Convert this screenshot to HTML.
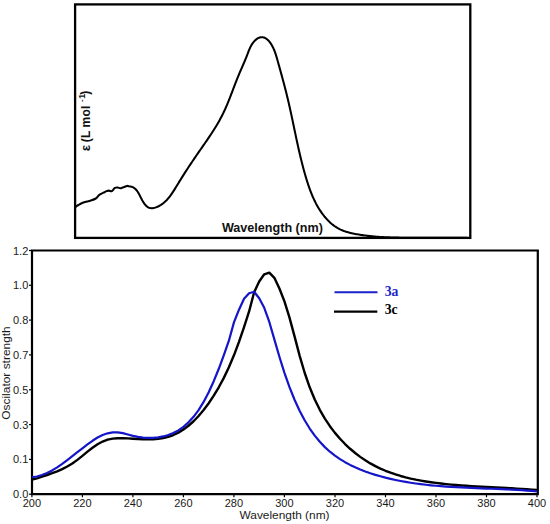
<!DOCTYPE html>
<html><head><meta charset="utf-8"><style>
html,body{margin:0;padding:0;background:#fff;}
body{width:550px;height:524px;overflow:hidden;font-family:"Liberation Sans",sans-serif;}
svg{display:block;}
</style></head><body>
<svg width="550" height="524" viewBox="0 0 550 524">
<rect x="75.1" y="4.4" width="395.2" height="233.5" fill="none" stroke="#000" stroke-width="2.3"/>
<path d="M76.0 206.6 C76.4 206.3 77.3 205.6 78.4 205.0 C79.5 204.4 81.2 203.4 82.7 202.8 C84.2 202.2 85.6 201.9 87.1 201.5 C88.6 201.1 90.0 200.8 91.5 200.3 C93.0 199.8 94.8 199.1 95.8 198.5 C96.8 197.9 96.9 197.5 97.5 196.8 C98.1 196.2 98.6 195.3 99.6 194.6 C100.6 193.9 102.3 193.3 103.5 192.7 C104.7 192.1 105.8 191.4 106.7 191.1 C107.6 190.8 108.1 190.6 108.9 190.6 C109.7 190.6 110.6 191.4 111.3 191.3 C112.0 191.2 112.3 190.7 112.9 190.1 C113.5 189.5 114.1 188.3 114.9 187.9 C115.7 187.5 116.7 187.4 117.6 187.5 C118.5 187.6 119.6 188.3 120.4 188.3 C121.2 188.3 121.8 187.8 122.5 187.5 C123.2 187.2 124.0 187.1 124.7 186.8 C125.4 186.5 126.2 186.0 126.9 185.9 C127.6 185.8 128.7 186.2 129.1 186.3 L129.06 186.18 L130.37 186.39 L131.57 186.72 L132.66 187.14 L133.65 187.67 L134.56 188.28 L135.39 188.98 L136.15 189.76 L136.86 190.60 L137.51 191.51 L138.13 192.48 L138.72 193.49 L139.29 194.54 L139.85 195.63 L140.41 196.74 L140.98 197.88 L141.57 199.02 L142.18 200.17 L142.82 201.29 L143.48 202.38 L144.18 203.42 L144.91 204.40 L145.68 205.30 L146.49 206.10 L147.35 206.80 L148.25 207.36 L149.21 207.79 L150.23 208.06 L151.30 208.17 L152.40 208.14 L153.53 207.98 L154.67 207.72 L155.80 207.38 L156.90 206.97 L157.98 206.51 L159.02 206.00 L160.02 205.45 L161.00 204.86 L161.95 204.22 L162.86 203.55 L163.76 202.84 L164.62 202.09 L165.46 201.32 L166.28 200.51 L167.08 199.67 L167.85 198.80 L168.61 197.91 L169.35 197.00 L170.07 196.07 L170.78 195.11 L171.47 194.14 L172.15 193.16 L172.82 192.16 L173.48 191.15 L174.13 190.13 L174.77 189.11 L175.40 188.08 L176.04 187.04 L176.66 186.01 L177.29 184.97 L177.91 183.94 L178.54 182.92 L179.16 181.90 L179.79 180.88 L180.42 179.87 L181.04 178.86 L181.67 177.85 L182.30 176.85 L182.93 175.86 L183.56 174.87 L184.19 173.88 L184.82 172.89 L185.45 171.91 L186.09 170.93 L186.72 169.95 L187.36 168.97 L187.99 168.00 L188.63 167.03 L189.27 166.06 L189.91 165.09 L190.55 164.13 L191.20 163.17 L191.84 162.20 L192.49 161.24 L193.14 160.28 L193.79 159.32 L194.44 158.37 L195.09 157.41 L195.74 156.45 L196.40 155.49 L197.06 154.54 L197.72 153.58 L198.38 152.62 L199.04 151.66 L199.71 150.70 L200.38 149.74 L201.04 148.78 L201.71 147.82 L202.38 146.86 L203.05 145.90 L203.73 144.93 L204.40 143.97 L205.07 143.00 L205.73 142.03 L206.40 141.06 L207.07 140.09 L207.73 139.11 L208.40 138.14 L209.06 137.16 L209.71 136.18 L210.37 135.20 L211.02 134.21 L211.67 133.23 L212.31 132.24 L212.95 131.24 L213.59 130.25 L214.22 129.25 L214.84 128.25 L215.46 127.25 L216.08 126.24 L216.69 125.23 L217.29 124.22 L217.88 123.20 L218.47 122.19 L219.05 121.16 L219.63 120.14 L220.19 119.11 L220.75 118.07 L221.30 117.03 L221.84 115.99 L222.37 114.94 L222.89 113.89 L223.41 112.84 L223.91 111.78 L224.41 110.72 L224.90 109.65 L225.38 108.59 L225.85 107.51 L226.32 106.44 L226.78 105.36 L227.24 104.28 L227.69 103.20 L228.13 102.11 L228.58 101.03 L229.01 99.94 L229.45 98.85 L229.88 97.75 L230.30 96.66 L230.73 95.57 L231.15 94.47 L231.57 93.37 L231.99 92.28 L232.41 91.18 L232.82 90.08 L233.24 88.98 L233.66 87.88 L234.08 86.79 L234.49 85.69 L234.91 84.59 L235.34 83.49 L235.76 82.40 L236.19 81.30 L236.62 80.21 L237.05 79.12 L237.48 78.03 L237.92 76.94 L238.37 75.85 L238.82 74.77 L239.27 73.69 L239.73 72.61 L240.20 71.53 L240.66 70.45 L241.13 69.37 L241.60 68.30 L242.07 67.22 L242.54 66.15 L243.00 65.07 L243.47 64.00 L243.93 62.92 L244.40 61.84 L244.85 60.77 L245.30 59.69 L245.75 58.61 L246.19 57.52 L246.62 56.43 L247.05 55.35 L247.47 54.25 L247.88 53.16 L248.29 52.06 L248.70 50.97 L249.14 49.88 L249.59 48.80 L250.07 47.72 L250.59 46.66 L251.15 45.61 L251.76 44.57 L252.43 43.55 L253.15 42.55 L253.94 41.59 L254.79 40.68 L255.68 39.84 L256.61 39.09 L257.58 38.44 L258.59 37.92 L259.62 37.53 L260.67 37.29 L261.72 37.20 L262.77 37.26 L263.79 37.47 L264.78 37.83 L265.74 38.32 L266.66 38.94 L267.55 39.67 L268.39 40.49 L269.20 41.40 L269.96 42.38 L270.68 43.40 L271.37 44.47 L272.01 45.56 L272.60 46.67 L273.15 47.77 L273.67 48.87 L274.14 49.98 L274.59 51.08 L275.00 52.18 L275.39 53.29 L275.76 54.39 L276.11 55.50 L276.44 56.60 L276.76 57.71 L277.08 58.82 L277.39 59.93 L277.71 61.04 L278.02 62.16 L278.33 63.27 L278.64 64.39 L278.96 65.51 L279.27 66.63 L279.58 67.75 L279.90 68.87 L280.21 70.00 L280.52 71.12 L280.83 72.25 L281.14 73.38 L281.45 74.51 L281.76 75.64 L282.07 76.77 L282.38 77.90 L282.69 79.04 L282.99 80.17 L283.30 81.31 L283.60 82.44 L283.90 83.58 L284.20 84.72 L284.50 85.86 L284.80 87.00 L285.09 88.14 L285.39 89.28 L285.68 90.42 L285.97 91.57 L286.25 92.71 L286.54 93.85 L286.82 95.00 L287.10 96.14 L287.38 97.29 L287.65 98.43 L287.92 99.58 L288.19 100.72 L288.46 101.87 L288.73 103.02 L288.99 104.16 L289.25 105.31 L289.51 106.46 L289.77 107.60 L290.02 108.75 L290.28 109.90 L290.53 111.05 L290.78 112.19 L291.03 113.34 L291.27 114.49 L291.52 115.64 L291.77 116.79 L292.01 117.94 L292.25 119.08 L292.50 120.23 L292.74 121.38 L292.98 122.53 L293.22 123.68 L293.46 124.83 L293.70 125.97 L293.94 127.12 L294.18 128.27 L294.42 129.42 L294.66 130.57 L294.90 131.71 L295.14 132.86 L295.39 134.01 L295.63 135.16 L295.87 136.30 L296.11 137.45 L296.36 138.60 L296.60 139.74 L296.85 140.89 L297.10 142.04 L297.35 143.18 L297.60 144.33 L297.85 145.47 L298.10 146.62 L298.36 147.76 L298.61 148.91 L298.87 150.05 L299.13 151.19 L299.39 152.33 L299.66 153.48 L299.93 154.62 L300.20 155.76 L300.47 156.90 L300.74 158.04 L301.02 159.18 L301.30 160.32 L301.58 161.46 L301.87 162.60 L302.16 163.74 L302.45 164.87 L302.75 166.01 L303.04 167.15 L303.35 168.28 L303.65 169.42 L303.96 170.55 L304.28 171.69 L304.59 172.82 L304.92 173.95 L305.24 175.08 L305.57 176.21 L305.91 177.34 L306.25 178.47 L306.59 179.60 L306.94 180.73 L307.29 181.85 L307.65 182.98 L308.02 184.10 L308.39 185.22 L308.77 186.34 L309.15 187.45 L309.55 188.56 L309.95 189.67 L310.36 190.77 L310.78 191.87 L311.21 192.97 L311.65 194.06 L312.09 195.15 L312.55 196.23 L313.02 197.31 L313.50 198.38 L313.99 199.44 L314.49 200.50 L315.00 201.55 L315.53 202.60 L316.06 203.64 L316.62 204.67 L317.18 205.69 L317.76 206.71 L318.35 207.71 L318.96 208.71 L319.58 209.70 L320.22 210.68 L320.87 211.66 L321.54 212.62 L322.23 213.57 L322.93 214.51 L323.65 215.45 L324.38 216.37 L325.14 217.28 L325.91 218.17 L326.69 219.05 L327.50 219.91 L328.32 220.75 L329.16 221.58 L330.02 222.38 L330.89 223.17 L331.78 223.93 L332.69 224.67 L333.61 225.38 L334.56 226.07 L335.52 226.73 L336.50 227.36 L337.49 227.96 L338.51 228.53 L339.54 229.07 L340.59 229.58 L341.65 230.05 L342.73 230.50 L343.83 230.92 L344.93 231.31 L346.05 231.68 L347.18 232.02 L348.32 232.35 L349.46 232.65 L350.61 232.94 L351.77 233.21 L352.93 233.46 L354.10 233.70 L355.26 233.93 L356.43 234.15 L357.60 234.36 L358.76 234.57 L359.93 234.76 L361.10 234.94 L362.26 235.12 L363.43 235.29 L364.60 235.45 L365.77 235.60 L366.93 235.74 L368.10 235.88 L369.27 236.01 L370.44 236.14 L371.60 236.26 L372.77 236.37 L373.94 236.47 L375.11 236.57 L376.27 236.66 L377.44 236.75 L378.61 236.83 L379.78 236.91 L380.95 236.98 L382.12 237.05 L383.29 237.11 L384.46 237.17 L385.63 237.23 L386.79 237.28 L387.96 237.33 L389.13 237.37 L390.31 237.41 L391.48 237.45 L392.65 237.48 L393.82 237.52 L394.99 237.55 L396.16 237.57 L397.33 237.60 L398.51 237.62 L399.68 237.65 L400.85 237.67 L402.02 237.69 L403.20 237.71 L404.37 237.72 L405.54 237.74 L406.72 237.76 L407.89 237.77 L409.07 237.78 L410.24 237.80 L411.42 237.81 L412.59 237.82 L413.77 237.83 L414.95 237.84 L416.12 237.84 L417.30 237.85 L418.47 237.86 L419.65 237.86 L420.83 237.87 L422.00 237.87 L423.18 237.88 L424.36 237.88 L425.53 237.88 L426.71 237.89 L427.89 237.89 L429.06 237.89 L430.24 237.89 L431.42 237.89 L432.59 237.89 L433.77 237.89 L434.95 237.89 L436.12 237.89 L437.30 237.89 L438.48 237.89 L439.65 237.88 L440.83 237.88 L442.00 237.88 L443.18 237.88 L444.36 237.88 L445.53 237.88 L446.71 237.88 L447.88 237.87 L449.06 237.87 L450.23 237.87 L451.41 237.87 L452.58 237.87 L453.76 237.87 L454.93 237.87 L456.10 237.87 L457.28 237.87 L458.45 237.87 L459.62 237.87 L460.80 237.88 L461.97 237.88 L463.14 237.88 L464.31 237.89 L465.48 237.89 L466.65 237.89 L467.82 237.90 L468.99 237.91" fill="none" stroke="#000" stroke-width="2.05" stroke-linejoin="round" stroke-linecap="round"/>
<g transform="translate(89.90 151.00) rotate(-90)" font-family="&quot;Liberation Sans&quot;, sans-serif" font-weight="bold" fill="#111"><text x="-0.3" y="0" font-size="13.5">&#949;</text><text y="0" font-size="12"><tspan x="8.7">(</tspan><tspan x="12.9">L</tspan><tspan x="23.4">m</tspan><tspan x="34.5">o</tspan><tspan x="42.1">l</tspan><tspan x="56.3" y="-0.9">)</tspan></text><text y="-5.8" font-size="8"><tspan x="48.9">-</tspan></text><text y="-4.9" font-size="8.8"><tspan x="52.3">1</tspan></text></g>
<text x="221.9" y="232.2" font-family="&quot;Liberation Sans&quot;, sans-serif" font-weight="bold" font-size="12" fill="#111" textLength="101" lengthAdjust="spacingAndGlyphs">Wavelength (nm)</text>
<path d="M32.0 250.5 H537.8 V494.2 H32.0 Z" fill="none" stroke="#000" stroke-width="2.2"/>
<line x1="29.0" y1="494.2" x2="32.0" y2="494.2" stroke="#000" stroke-width="1.2"/>
<text x="28.3" y="498.2" text-anchor="end" font-family="&quot;Liberation Sans&quot;, sans-serif" font-size="11" fill="#1a1a1a">0.0</text>
<line x1="29.0" y1="459.4" x2="32.0" y2="459.4" stroke="#000" stroke-width="1.2"/>
<text x="28.3" y="463.4" text-anchor="end" font-family="&quot;Liberation Sans&quot;, sans-serif" font-size="11" fill="#1a1a1a">0.1</text>
<line x1="29.0" y1="424.6" x2="32.0" y2="424.6" stroke="#000" stroke-width="1.2"/>
<text x="28.3" y="428.6" text-anchor="end" font-family="&quot;Liberation Sans&quot;, sans-serif" font-size="11" fill="#1a1a1a">0.3</text>
<line x1="29.0" y1="389.8" x2="32.0" y2="389.8" stroke="#000" stroke-width="1.2"/>
<text x="28.3" y="393.8" text-anchor="end" font-family="&quot;Liberation Sans&quot;, sans-serif" font-size="11" fill="#1a1a1a">0.5</text>
<line x1="29.0" y1="354.9" x2="32.0" y2="354.9" stroke="#000" stroke-width="1.2"/>
<text x="28.3" y="358.9" text-anchor="end" font-family="&quot;Liberation Sans&quot;, sans-serif" font-size="11" fill="#1a1a1a">0.7</text>
<line x1="29.0" y1="320.1" x2="32.0" y2="320.1" stroke="#000" stroke-width="1.2"/>
<text x="28.3" y="324.1" text-anchor="end" font-family="&quot;Liberation Sans&quot;, sans-serif" font-size="11" fill="#1a1a1a">0.8</text>
<line x1="29.0" y1="285.3" x2="32.0" y2="285.3" stroke="#000" stroke-width="1.2"/>
<text x="28.3" y="289.3" text-anchor="end" font-family="&quot;Liberation Sans&quot;, sans-serif" font-size="11" fill="#1a1a1a">1.0</text>
<line x1="29.0" y1="250.5" x2="32.0" y2="250.5" stroke="#000" stroke-width="1.2"/>
<text x="28.3" y="254.5" text-anchor="end" font-family="&quot;Liberation Sans&quot;, sans-serif" font-size="11" fill="#1a1a1a">1.2</text>
<line x1="31.9" y1="494.2" x2="31.9" y2="497.3" stroke="#000" stroke-width="1.2"/>
<text x="31.9" y="507.2" text-anchor="middle" font-family="&quot;Liberation Sans&quot;, sans-serif" font-size="11" fill="#1a1a1a">200</text>
<line x1="82.4" y1="494.2" x2="82.4" y2="497.3" stroke="#000" stroke-width="1.2"/>
<text x="82.4" y="507.2" text-anchor="middle" font-family="&quot;Liberation Sans&quot;, sans-serif" font-size="11" fill="#1a1a1a">220</text>
<line x1="132.9" y1="494.2" x2="132.9" y2="497.3" stroke="#000" stroke-width="1.2"/>
<text x="132.9" y="507.2" text-anchor="middle" font-family="&quot;Liberation Sans&quot;, sans-serif" font-size="11" fill="#1a1a1a">240</text>
<line x1="183.4" y1="494.2" x2="183.4" y2="497.3" stroke="#000" stroke-width="1.2"/>
<text x="183.4" y="507.2" text-anchor="middle" font-family="&quot;Liberation Sans&quot;, sans-serif" font-size="11" fill="#1a1a1a">260</text>
<line x1="233.9" y1="494.2" x2="233.9" y2="497.3" stroke="#000" stroke-width="1.2"/>
<text x="233.9" y="507.2" text-anchor="middle" font-family="&quot;Liberation Sans&quot;, sans-serif" font-size="11" fill="#1a1a1a">280</text>
<line x1="284.4" y1="494.2" x2="284.4" y2="497.3" stroke="#000" stroke-width="1.2"/>
<text x="284.4" y="507.2" text-anchor="middle" font-family="&quot;Liberation Sans&quot;, sans-serif" font-size="11" fill="#1a1a1a">300</text>
<line x1="335.0" y1="494.2" x2="335.0" y2="497.3" stroke="#000" stroke-width="1.2"/>
<text x="335.0" y="507.2" text-anchor="middle" font-family="&quot;Liberation Sans&quot;, sans-serif" font-size="11" fill="#1a1a1a">320</text>
<line x1="385.5" y1="494.2" x2="385.5" y2="497.3" stroke="#000" stroke-width="1.2"/>
<text x="385.5" y="507.2" text-anchor="middle" font-family="&quot;Liberation Sans&quot;, sans-serif" font-size="11" fill="#1a1a1a">340</text>
<line x1="436.0" y1="494.2" x2="436.0" y2="497.3" stroke="#000" stroke-width="1.2"/>
<text x="436.0" y="507.2" text-anchor="middle" font-family="&quot;Liberation Sans&quot;, sans-serif" font-size="11" fill="#1a1a1a">360</text>
<line x1="486.5" y1="494.2" x2="486.5" y2="497.3" stroke="#000" stroke-width="1.2"/>
<text x="486.5" y="507.2" text-anchor="middle" font-family="&quot;Liberation Sans&quot;, sans-serif" font-size="11" fill="#1a1a1a">380</text>
<line x1="537.0" y1="494.2" x2="537.0" y2="497.3" stroke="#000" stroke-width="1.2"/>
<text x="537.0" y="507.2" text-anchor="middle" font-family="&quot;Liberation Sans&quot;, sans-serif" font-size="11" fill="#1a1a1a">400</text>
<text x="284.5" y="519" text-anchor="middle" font-family="&quot;Liberation Sans&quot;, sans-serif" font-size="11" fill="#1a1a1a" textLength="90" lengthAdjust="spacingAndGlyphs">Wavelength (nm)</text>
<text x="0" y="0" transform="translate(9.8 373.0) rotate(-90)" text-anchor="middle" font-family="&quot;Liberation Sans&quot;, sans-serif" font-size="11" fill="#1a1a1a" textLength="93.5" lengthAdjust="spacingAndGlyphs">Oscilator strength</text>
<path d="M31.90 479.65 L36.95 478.33 L42.00 476.67 L47.05 475.00 L52.10 473.23 L57.16 471.29 L62.21 469.09 L67.26 466.53 L72.31 463.49 L77.36 459.87 L82.41 455.83 L87.46 451.67 L92.51 447.71 L97.56 444.25 L102.61 441.52 L107.66 439.67 L112.72 438.64 L117.77 438.19 L122.82 438.15 L127.87 438.36 L132.92 438.68 L137.97 439.01 L143.02 439.24 L148.07 439.32 L153.12 439.19 L158.18 438.78 L163.23 438.02 L168.28 436.82 L173.33 435.04 L178.38 432.63 L183.43 429.54 L188.48 425.76 L193.53 421.25 L198.58 416.00 L203.63 409.99 L208.69 403.21 L213.74 395.67 L218.79 387.29 L223.84 377.89 L228.89 367.30 L233.94 355.33 L238.99 341.91 L244.04 327.19 L249.09 311.49 L254.14 292.30 L259.19 281.50 L264.25 274.30 L269.30 272.60 L274.35 277.80 L279.40 288.50 L284.45 301.43 L289.50 317.68 L294.55 336.40 L299.60 355.57 L304.65 372.75 L309.70 387.27 L314.76 399.46 L319.81 409.78 L324.86 418.59 L329.91 426.21 L334.96 432.86 L340.01 438.76 L345.06 444.03 L350.11 448.76 L355.16 453.03 L360.21 456.87 L365.27 460.32 L370.32 463.41 L375.37 466.16 L380.42 468.60 L385.47 470.77 L390.52 472.71 L395.57 474.43 L400.62 475.97 L405.67 477.33 L410.72 478.55 L415.78 479.64 L420.83 480.60 L425.88 481.46 L430.93 482.23 L435.98 482.92 L441.03 483.54 L446.08 484.10 L451.13 484.60 L456.18 485.05 L461.23 485.45 L466.29 485.82 L471.34 486.16 L476.39 486.46 L481.44 486.75 L486.49 487.01 L491.54 487.27 L496.59 487.52 L501.64 487.78 L506.69 488.04 L511.75 488.31 L516.80 488.60 L521.85 488.91 L526.90 489.25 L531.95 489.63 L537.00 490.05" fill="none" stroke="#000" stroke-width="2.4" stroke-linejoin="round"/>
<path d="M31.90 477.27 L36.95 476.51 L42.00 475.03 L47.05 472.99 L52.10 470.40 L57.16 467.32 L62.21 463.82 L67.26 460.02 L72.31 456.08 L77.36 452.15 L82.41 448.28 L87.46 444.47 L92.51 440.79 L97.56 437.52 L102.61 434.99 L107.66 433.33 L112.72 432.45 L117.77 432.38 L122.82 433.16 L127.87 434.49 L132.92 435.88 L137.97 436.92 L143.02 437.58 L148.07 437.87 L153.12 437.79 L158.18 437.33 L163.23 436.44 L168.28 435.06 L173.33 433.07 L178.38 430.36 L183.43 426.83 L188.48 422.36 L193.53 416.82 L198.58 410.05 L203.63 401.92 L208.69 392.28 L213.74 381.17 L218.79 368.78 L223.84 355.20 L228.89 340.72 L233.94 322.40 L238.99 309.70 L244.04 298.80 L249.09 293.20 L254.14 291.80 L259.19 298.20 L264.25 307.80 L269.30 321.98 L274.35 339.38 L279.40 356.70 L284.45 372.81 L289.50 387.17 L294.55 399.74 L299.60 410.71 L304.65 420.26 L309.70 428.53 L314.76 435.66 L319.81 441.81 L324.86 447.12 L329.91 451.70 L334.96 455.65 L340.01 459.11 L345.06 462.18 L350.11 464.90 L355.16 467.32 L360.21 469.49 L365.27 471.45 L370.32 473.22 L375.37 474.84 L380.42 476.31 L385.47 477.66 L390.52 478.89 L395.57 480.01 L400.62 481.02 L405.67 481.93 L410.72 482.76 L415.78 483.50 L420.83 484.17 L425.88 484.76 L430.93 485.30 L435.98 485.77 L441.03 486.19 L446.08 486.57 L451.13 486.90 L456.18 487.20 L461.23 487.47 L466.29 487.71 L471.34 487.94 L476.39 488.15 L481.44 488.34 L486.49 488.54 L491.54 488.73 L496.59 488.93 L501.64 489.14 L506.69 489.36 L511.75 489.61 L516.80 489.88 L521.85 490.19 L526.90 490.53 L531.95 490.92 L537.00 491.34" fill="none" stroke="#1414c8" stroke-width="2.2" stroke-linejoin="round"/>
<line x1="334.5" y1="292.3" x2="377.5" y2="292.3" stroke="#1a22c8" stroke-width="2"/>
<line x1="334" y1="311.7" x2="377.3" y2="311.7" stroke="#000" stroke-width="2.3"/>
<text x="384.7" y="296.0" style="font-family:&quot;Liberation Serif&quot;,serif" font-weight="bold" font-size="13.7" fill="#1e28c8">3a</text>
<text x="384.7" y="314.0" style="font-family:&quot;Liberation Serif&quot;,serif" font-weight="bold" font-size="13.7" fill="#000">3c</text>
</svg>
</body></html>
